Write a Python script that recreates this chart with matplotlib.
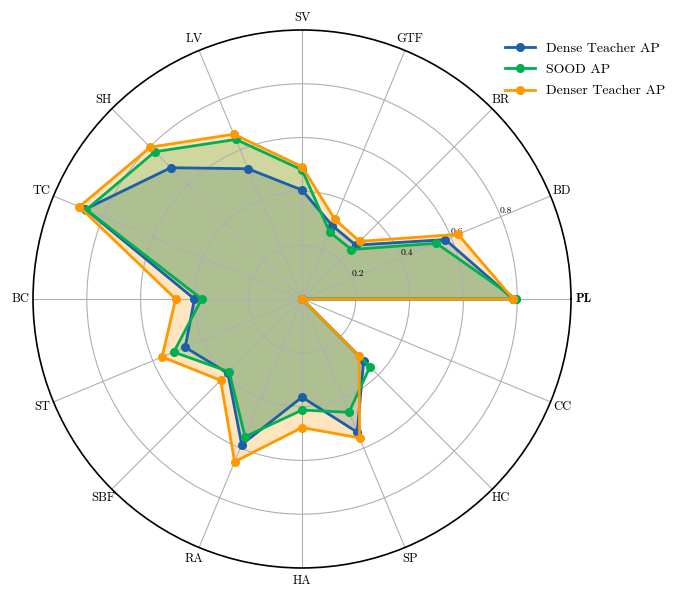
import numpy as np
import matplotlib
matplotlib.use("Agg")
import matplotlib.pyplot as plt

plt.rcParams["font.family"] = ["cmr10", "DejaVu Serif"]
plt.rcParams["axes.formatter.use_mathtext"] = True

categories = ["PL", "BD", "BR", "GTF", "SV", "LV", "SH", "TC",
              "BC", "ST", "SBF", "RA", "HA", "SP", "HC", "CC"]

dense_teacher = [0.785, 0.577, 0.283, 0.295, 0.405, 0.524, 0.690, 0.872,
                 0.400, 0.470, 0.390, 0.586, 0.365, 0.536, 0.324, 0.0]
sood = [0.795, 0.541, 0.260, 0.269, 0.480, 0.642, 0.774, 0.868,
        0.373, 0.516, 0.383, 0.554, 0.413, 0.456, 0.357, 0.0]
denser_teacher = [0.785, 0.628, 0.303, 0.320, 0.492, 0.663, 0.798, 0.896,
                  0.470, 0.563, 0.428, 0.655, 0.478, 0.559, 0.300, 0.0]

series = [
    ("Dense Teacher AP", dense_teacher, "#1a5fa8"),
    ("SOOD AP", sood, "#00b050"),
    ("Denser Teacher AP", denser_teacher, "#ff9900"),
]

angles = np.linspace(0, 2 * np.pi, len(categories), endpoint=False)
closed_angles = np.concatenate([angles, angles[:1]])

fig = plt.figure(figsize=(6.78, 5.89), dpi=100)
ax = fig.add_axes([0.0487, 0.0357, 0.7935, 0.9134], projection="polar")

for name, values, color in series:
    vals = np.concatenate([values, values[:1]])
    ax.plot(closed_angles, vals, color=color, linewidth=2, marker="o",
            markersize=5.5, label=name)
    ax.fill(closed_angles, vals, color=color, alpha=0.25)

ax.set_ylim(0, 1.0)
ax.set_yticks([0.2, 0.4, 0.6, 0.8])
ax.set_yticklabels(["0.2", "0.4", "0.6", "0.8"], fontsize=7)
ax.set_rlabel_position(23)

ax.set_xticks(angles)
ax.set_xticklabels(categories, fontsize=9)
ax.tick_params(axis="x", pad=-1.5)
for lbl in ax.get_xticklabels():
    if lbl.get_text() == "PL":
        lbl.set_fontfamily("cmb10")

ax.grid(color="#b0b0b0", linewidth=0.8)
ax.spines["polar"].set_linewidth(1.2)
ax.spines["polar"].set_color("black")

fig.legend(loc="upper right", bbox_to_anchor=(1.0, 0.949), frameon=False,
           fontsize=10, handlelength=2.2, labelspacing=0.6)

fig.savefig("out.png", dpi=100)
